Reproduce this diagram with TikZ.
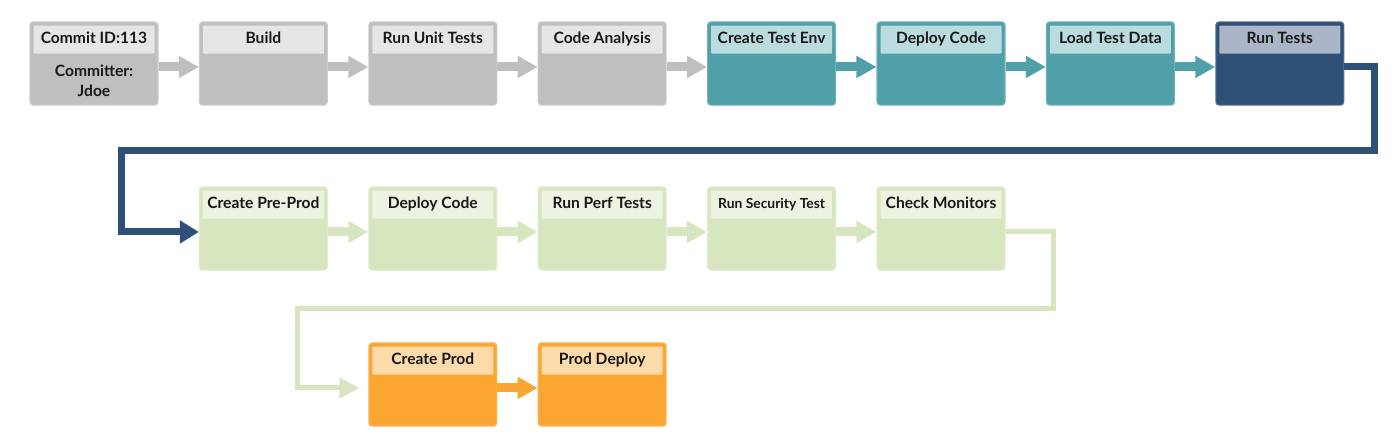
\documentclass[tikz,border=0pt]{standalone}
\usepackage{fontspec}
\setmainfont{Lato}
\usetikzlibrary{arrows.meta}

\definecolor{greybody}{HTML}{BFBFBF}
\definecolor{greyhead}{HTML}{E6E6E6}
\definecolor{tealbody}{HTML}{4FA0A8}
\definecolor{tealhead}{HTML}{BADCDF}
\definecolor{navybody}{HTML}{2E5076}
\definecolor{navyhead}{HTML}{AAB6C7}
\definecolor{greenbody}{HTML}{D7E6BE}
\definecolor{greenhead}{HTML}{ECF3E0}
\definecolor{orangebody}{HTML}{FBA533}
\definecolor{orangehead}{HTML}{FDDAAA}

\tikzset{
  stagebox/.style={fill=#1, draw=#1!80!white, line width=0.8pt, rounded corners=2.5pt,
    minimum width=96pt, minimum height=62.5pt, inner sep=0pt},
  headbox/.style={fill=#1, rounded corners=0.6pt, minimum width=90.75pt, minimum height=21pt,
    inner sep=0pt, text height=9pt, text depth=2.6pt, font=\fontsize{11.7}{14}\bfseries, text=black!90},
  flow/.style={draw=#1, line width=6.75pt, -{Triangle[length=15pt,width=15.75pt]}},
  loopline/.style={draw=#1, line join=miter}
}

\begin{document}
\begin{tikzpicture}[x=0.75pt,y=-0.75pt]
\useasboundingbox (0,0) rectangle (1395,446);

% first row
\node[stagebox=greybody] (commit) at (94,63.5) {};
\node[headbox=greyhead] (commith) at (94,39.5) {Commit ID:113};
\node[font=\fontsize{11.7}{15}\bfseries, text=black!90, align=center] (committer) at (94,80.5) {Committer:\\Jdoe};
\node[stagebox=greybody] (build) at (263.4,63.5) {};
\node[headbox=greyhead] (buildh) at (263.4,39.5) {Build};
\node[stagebox=greybody] (unittest) at (432.8,63.5) {};
\node[headbox=greyhead] (unittesth) at (432.8,39.5) {Run Unit Tests};
\node[stagebox=greybody] (analysis) at (602.2,63.5) {};
\node[headbox=greyhead] (analysish) at (602.2,39.5) {Code Analysis};
\node[stagebox=tealbody] (testenv) at (771.6,63.5) {};
\node[headbox=tealhead] (testenvh) at (771.6,39.5) {Create Test Env};
\node[stagebox=tealbody] (deploytest) at (941,63.5) {};
\node[headbox=tealhead] (deploytesth) at (941,39.5) {Deploy Code};
\node[stagebox=tealbody] (loaddata) at (1110.4,63.5) {};
\node[headbox=tealhead] (loaddatah) at (1110.4,39.5) {Load Test Data};
\node[stagebox=navybody] (runtests) at (1279.8,63.5) {};
\node[headbox=navyhead] (runtestsh) at (1279.8,39.5) {Run Tests};

% second row
\node[stagebox=greenbody] (preprod) at (263.4,228.5) {};
\node[headbox=greenhead] (preprodh) at (263.4,204.5) {Create Pre-Prod};
\node[stagebox=greenbody] (deploypre) at (432.8,228.5) {};
\node[headbox=greenhead] (deployppreh) at (432.8,204.5) {Deploy Code};
\node[stagebox=greenbody] (perftest) at (602.2,228.5) {};
\node[headbox=greenhead] (perftesth) at (602.2,204.5) {Run Perf Tests};
\node[stagebox=greenbody] (sectest) at (771.6,228.5) {};
\node[headbox=greenhead] (sectesth) at (771.6,204.5) {\fontsize{10.4}{12}\selectfont Run Security Test};
\node[stagebox=greenbody] (monitors) at (941,228.5) {};
\node[headbox=greenhead] (monitorsh) at (941,204.5) {Check Monitors};

% third row
\node[stagebox=orangebody] (createprod) at (432.8,384.5) {};
\node[headbox=orangehead] (createprodh) at (432.8,360.5) {Create Prod};
\node[stagebox=orangebody] (proddeploy) at (602.2,384.5) {};
\node[headbox=orangehead] (proddeployh) at (602.2,360.5) {Prod Deploy};

\draw[flow=greybody] ([yshift=-2.6pt]commit.east)--([yshift=-2.6pt]build.west);
\draw[flow=greybody] ([yshift=-2.6pt]build.east)--([yshift=-2.6pt]unittest.west);
\draw[flow=greybody] ([yshift=-2.6pt]unittest.east)--([yshift=-2.6pt]analysis.west);
\draw[flow=greybody] ([yshift=-2.6pt]analysis.east)--([yshift=-2.6pt]testenv.west);
\draw[flow=tealbody] ([yshift=-2.6pt]testenv.east)--([yshift=-2.6pt]deploytest.west);
\draw[flow=tealbody] ([yshift=-2.6pt]deploytest.east)--([yshift=-2.6pt]loaddata.west);
\draw[flow=tealbody] ([yshift=-2.6pt]loaddata.east)--([yshift=-2.6pt]runtests.west);

\draw[flow=greenbody] ([yshift=-2.6pt]preprod.east)--([yshift=-2.6pt]deploypre.west);
\draw[flow=greenbody] ([yshift=-2.6pt]deploypre.east)--([yshift=-2.6pt]perftest.west);
\draw[flow=greenbody] ([yshift=-2.6pt]perftest.east)--([yshift=-2.6pt]sectest.west);
\draw[flow=greenbody] ([yshift=-2.6pt]sectest.east)--([yshift=-2.6pt]monitors.west);

\draw[flow=orangebody] ([yshift=-2.6pt]createprod.east)--([yshift=-2.6pt]proddeploy.west);

% return lines between rows
\coordinate (navyright) at (1374,150);
\coordinate (navyleft) at (121.5,150);
\draw[loopline=navybody, line width=5.25pt, -{Triangle[length=14.25pt,width=16.5pt]}]
  ([yshift=-2.6pt]runtests.east) -| (navyright) -- (navyleft) |- ([yshift=-2.6pt]preprod.west);

\coordinate (greenright) at (1053,308);
\coordinate (greenleft) at (297,308);
\coordinate (greenend) at ([xshift=-6.75pt,yshift=-2.6pt]createprod.west);
\draw[loopline=greenbody, line width=3.75pt, -{Triangle[length=15pt,width=15pt]}]
  ([yshift=-2.6pt]monitors.east) -| (greenright) -- (greenleft) |- (greenend);
\end{tikzpicture}
\end{document}
